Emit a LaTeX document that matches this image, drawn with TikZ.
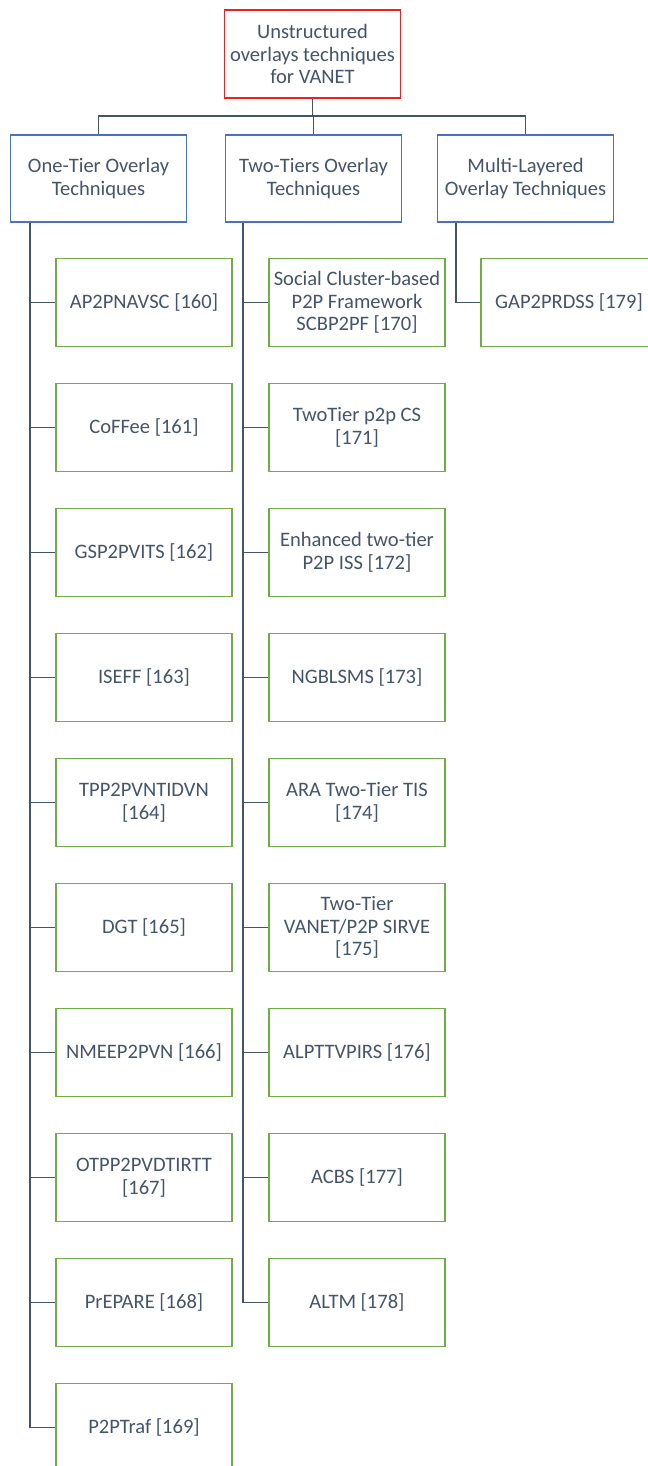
\documentclass[tikz,border=0pt]{standalone}
\usepackage{fontspec}
\setmainfont{Carlito}
\definecolor{txt}{HTML}{44546A}
\definecolor{lin}{HTML}{44546A}
\definecolor{rootc}{HTML}{F02020}
\definecolor{bluec}{HTML}{4472C4}
\definecolor{greenc}{HTML}{70AD47}
\begin{document}
\begin{tikzpicture}[x=0.75pt,y=-0.75pt,
  every node/.style={font=\fontsize{15.4}{16.9}\selectfont, text=txt, align=center, inner sep=0pt},
  rootbox/.style={draw=rootc, line width=1.1pt, minimum width=132pt, minimum height=66pt},
  catbox/.style={draw=bluec, line width=1.1pt, minimum width=132pt, minimum height=65.5pt},
  leafbox/.style={draw=greenc, line width=1.1pt, minimum width=132pt, minimum height=66pt},
  conn/.style={draw=lin, line width=1pt}]
\useasboundingbox (0,0) rectangle (648,1466);
\fill[white] (0,0) rectangle (648,1466);
\node[rootbox] (root) at (312.5,54) {Unstructured\\overlays techniques\\for VANET};
\node[catbox] (c1) at (98.5,178.5) {One-Tier Overlay\\Techniques};
\node[catbox] (c2) at (313.5,178.5) {Two-Tiers Overlay\\Techniques};
\node[catbox] (c3) at (525.5,178.5) {Multi-Layered\\Overlay Techniques};
\coordinate (bus) at (0,116);
\draw[conn] (root.south) -- (root.south |- bus);
\draw[conn] (c1.north) -- (c1.north |- bus) -- (c3.north |- bus) -- (c3.north);
\draw[conn] (c2.north) -- (c2.north |- bus);
% column 1
\node[leafbox] (a0) at (144,302.5) {AP2PNAVSC [160]};
\node[leafbox] (a1) at (144,427.5) {CoFFee [161]};
\node[leafbox] (a2) at (144,552.5) {GSP2PVITS [162]};
\node[leafbox] (a3) at (144,677.5) {ISEFF [163]};
\node[leafbox] (a4) at (144,802.5) {TPP2PVNTIDVN\\{}[164]};
\node[leafbox] (a5) at (144,927.5) {DGT [165]};
\node[leafbox] (a6) at (144,1052.5) {NMEEP2PVN [166]};
\node[leafbox] (a7) at (144,1177.5) {OTPP2PVDTIRTT\\{}[167]};
\node[leafbox] (a8) at (144,1302.5) {PrEPARE [168]};
\node[leafbox] (a9) at (144,1427.5) {P2PTraf [169]};
% column 2
\node[leafbox] (b0) at (357,302.5) {Social Cluster-based\\P2P Framework\\SCBP2PF [170]};
\node[leafbox] (b1) at (357,427.5) {TwoTier p2p CS\\{}[171]};
\node[leafbox] (b2) at (357,552.5) {Enhanced two-tier\\P2P ISS [172]};
\node[leafbox] (b3) at (357,677.5) {NGBLSMS [173]};
\node[leafbox] (b4) at (357,802.5) {ARA Two-Tier TIS\\{}[174]};
\node[leafbox] (b5) at (357,927.5) {Two-Tier\\VANET/P2P SIRVE\\{}[175]};
\node[leafbox] (b6) at (357,1052.5) {ALPTTVPIRS [176]};
\node[leafbox] (b7) at (357,1177.5) {ACBS [177]};
\node[leafbox] (b8) at (357,1302.5) {ALTM [178]};
% column 3
\node[leafbox] (g0) at (569,302.5) {GAP2PRDSS [179]};
\coordinate (t1) at (30,0);
\coordinate (t2) at (243,0);
\coordinate (t3) at (456,0);
\draw[conn] (t1 |- c1.south) -- (t1 |- a9.west) -- (a9.west);
\foreach \i in {0,...,8}{\draw[conn] (t1 |- a\i.west) -- (a\i.west);}
\draw[conn] (t2 |- c2.south) -- (t2 |- b8.west) -- (b8.west);
\foreach \i in {0,...,7}{\draw[conn] (t2 |- b\i.west) -- (b\i.west);}
\draw[conn] (t3 |- c3.south) -- (t3 |- g0.west) -- (g0.west);
\end{tikzpicture}
\end{document}
